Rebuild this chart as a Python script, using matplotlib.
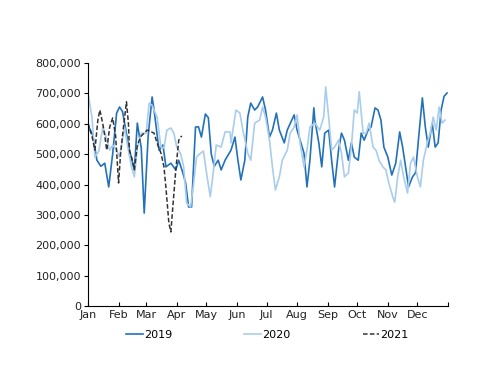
import matplotlib
matplotlib.use('Agg')
import matplotlib.pyplot as plt

# day of year -> value
days_2019 = [0, 5, 9, 13, 17, 21, 25, 29, 32, 35, 42, 47, 50, 54, 57, 61, 65, 67, 72, 76,
             79, 84, 89, 92, 96, 99, 102, 105, 109, 112, 115, 119, 122, 125, 128, 132, 135, 139,
             145, 149, 152, 155, 159, 162, 165, 169, 172, 177, 180, 184, 187, 191, 194, 199,
             202, 209, 212, 219, 222, 225, 229, 230, 234, 237, 240, 244, 247, 250, 254, 257,
             260, 264, 267, 270, 274, 277, 280, 284, 287, 291, 294, 297, 300, 304, 308, 312,
             316, 319, 321, 325, 329, 332, 335, 339, 342, 345, 349, 352, 355, 358, 361, 364]
vals_2019 = [596, 560, 480, 460, 470, 392, 500, 635, 655, 640, 513, 448, 602, 520, 306, 560,
             688, 645, 513, 530, 458, 470, 448, 480, 440, 405, 326, 326, 589, 590, 556, 632,
             620, 500, 460, 480, 448, 480, 513, 556, 480, 415, 480, 622, 668, 645, 655, 688,
             645, 556, 579, 635, 579, 537, 579, 629, 579, 503, 392, 480, 652, 612, 537, 458,
             569, 579, 480, 392, 513, 569, 546, 480, 537, 490, 480, 569, 546, 579, 589, 652,
             645, 612, 523, 490, 431, 470, 573, 523, 480, 392, 425, 438, 546, 685, 589, 523,
             602, 523, 537, 645, 690, 701]

days_2020 = [0, 4, 7, 11, 15, 18, 22, 25, 29, 32, 37, 40, 44, 47, 50, 54, 59, 62, 65, 70,
             74, 77, 80, 84, 87, 90, 94, 97, 100, 104, 107, 110, 113, 117, 121, 124, 127, 130,
             135, 139, 144, 145, 150, 154, 157, 162, 165, 169, 174, 177, 180, 184, 187, 190,
             194, 197, 202, 205, 209, 212, 215, 219, 222, 225, 230, 235, 239, 241, 244, 247,
             250, 254, 257, 260, 264, 267, 270, 273, 275, 279, 282, 285, 289, 292, 295, 299,
             302, 305, 309, 311, 314, 317, 320, 324, 327, 330, 334, 337, 340, 344, 347, 350,
             353, 356, 359, 362]
vals_2020 = [701, 622, 490, 510, 589, 560, 513, 530, 513, 490, 589, 530, 458, 425, 520, 569,
             569, 668, 660, 622, 523, 520, 579, 586, 569, 523, 500, 458, 339, 326, 400, 490,
             500, 510, 420, 360, 440, 530, 523, 573, 573, 537, 645, 635, 579, 503, 480, 602,
             612, 655, 622, 546, 458, 382, 425, 480, 513, 569, 589, 629, 537, 458, 513, 589,
             602, 579, 622, 721, 622, 513, 523, 546, 503, 425, 438, 523, 645, 635, 705, 569,
             569, 602, 523, 513, 480, 458, 448, 405, 359, 342, 425, 480, 425, 372, 470, 490,
             425, 392, 480, 537, 569, 622, 579, 655, 602, 612]

days_2021 = [0, 4, 7, 10, 12, 15, 17, 19, 22, 25, 28, 31, 33, 36, 39, 41, 42, 45, 47, 50,
             54, 57, 60, 63, 67, 70, 74, 77, 79, 82, 84, 86, 89, 92, 95]
vals_2021 = [602, 560, 513, 612, 645, 600, 560, 513, 589, 619, 560, 405, 500, 590, 672, 600,
             513, 480, 448, 530, 560, 569, 579, 575, 569, 537, 503, 458, 390, 273, 244, 326,
             448, 546, 560]

month_starts = [0, 31, 59, 90, 120, 151, 181, 212, 243, 273, 304, 334, 365]
month_labels = ['Jan', 'Feb', 'Mar', 'Apr', 'May', 'Jun', 'Jul', 'Aug', 'Sep', 'Oct', 'Nov', 'Dec', '']

fig = plt.figure(figsize=(5, 3.86), dpi=100)
ax = fig.add_axes([0.176, 0.207, 0.72, 0.63])

ax.plot(days_2019, [v * 1000 for v in vals_2019], color='#2372b9', lw=1.2, label='2019')
ax.plot(days_2020, [v * 1000 for v in vals_2020], color='#a9cdec', lw=1.2, label='2020')
ax.plot(days_2021, [v * 1000 for v in vals_2021], color='#333333', lw=1.1, ls=(0, (3, 1.5)),
        label='2021')

ax.set_xlim(0, 365)
ax.set_ylim(0, 800000)
ax.set_xticks(month_starts)
ax.set_xticklabels(month_labels, fontsize=8, color='#222222')
ax.set_yticks(range(0, 800001, 100000))
ax.set_yticklabels([f'{v:,}' for v in range(0, 800001, 100000)], fontsize=8, color='#222222')
ax.tick_params(axis='x', direction='in', length=3, pad=3)
ax.tick_params(axis='y', direction='out', length=3, pad=2)
for s in ['top', 'right']:
    ax.spines[s].set_visible(False)

fig.legend(loc='center', bbox_to_anchor=(0.535, 0.132), ncol=3, frameon=False,
           fontsize=8, handlelength=1.5, handletextpad=0.1, columnspacing=6.5)

fig.savefig('out.png', dpi=100)
